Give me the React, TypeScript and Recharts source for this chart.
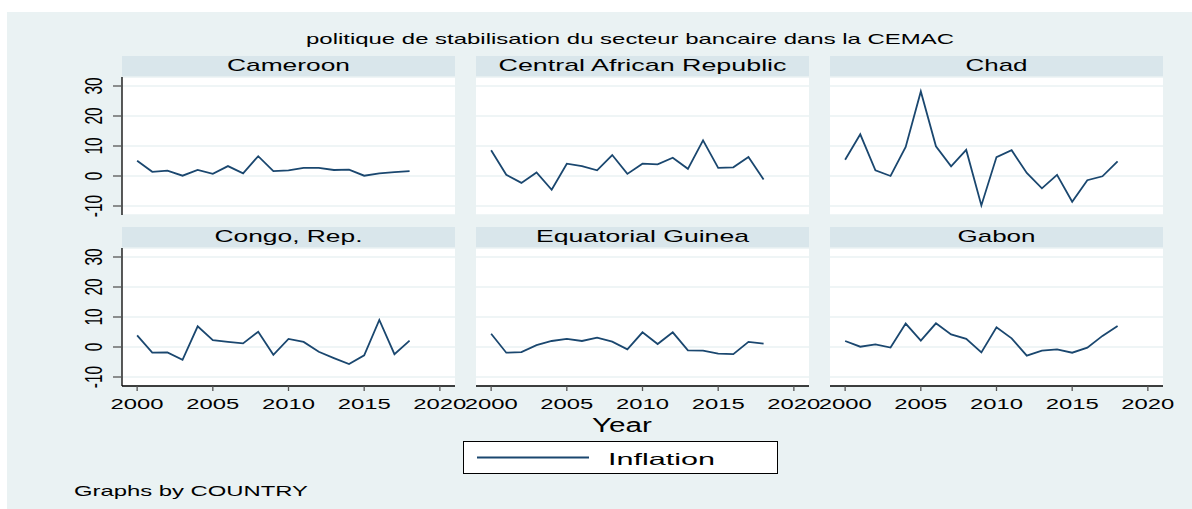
import React from "react";
import { LineChart, Line, XAxis, YAxis, CartesianGrid } from "recharts";

const years = [
  2000, 2001, 2002, 2003, 2004, 2005, 2006, 2007, 2008, 2009, 2010, 2011, 2012,
  2013, 2014, 2015, 2016, 2017, 2018,
];
const cameroon = [5.1, 1.4, 1.8, 0.1, 2.0, 0.7, 3.3, 0.9, 6.6, 1.6, 1.9, 2.7, 2.7, 2.0, 2.1, 0.1, 0.9, 1.3, 1.6];
const centralAfricanRepublic = [8.6, 0.4, -2.3, 1.2, -4.6, 4.1, 3.3, 1.9, 7.0, 0.7, 4.1, 3.9, 6.1, 2.4, 11.9, 2.7, 2.9, 6.3, -1.2];
const chad = [5.4, 13.9, 1.9, 0.0, 9.7, 28.2, 9.9, 3.2, 8.7, -9.8, 6.3, 8.6, 1.0, -4.1, 0.4, -8.6, -1.4, -0.1, 4.9];
const congoRep = [3.9, -1.9, -1.8, -4.3, 6.9, 2.3, 1.7, 1.2, 5.1, -2.6, 2.7, 1.7, -1.6, -3.7, -5.7, -2.8, 9.0, -2.4, 2.1];
const equatorialGuinea = [4.4, -1.9, -1.7, 0.6, 2.0, 2.7, 2.0, 3.1, 1.8, -0.8, 4.9, 1.0, 4.9, -1.1, -1.2, -2.2, -2.4, 1.7, 1.1];
const gabon = [2.0, 0.1, 0.9, -0.2, 7.8, 2.1, 7.9, 4.2, 2.7, -1.8, 6.6, 2.9, -2.9, -1.2, -0.8, -1.9, -0.2, 3.7, 7.0];

const yearTicks = [2000, 2005, 2010, 2015, 2020];
const inflationTicks = [-10, 0, 10, 20, 30];

const panels = [
  { name: "Cameroon", values: cameroon, col: 0, row: 0, textW: 123 },
  { name: "Central African Republic", values: centralAfricanRepublic, col: 1, row: 0, textW: 288 },
  { name: "Chad", values: chad, col: 2, row: 0, textW: 62 },
  { name: "Congo, Rep.", values: congoRep, col: 0, row: 1, textW: 148 },
  { name: "Equatorial Guinea", values: equatorialGuinea, col: 1, row: 1, textW: 213 },
  { name: "Gabon", values: gabon, col: 2, row: 1, textW: 78 },
];

const FONT = "'Liberation Sans', Arial, Helvetica, sans-serif";
const NAVY = "#1A476F";
const BG = "#EAF2F3";
const STRIP = "#D9E6EB";

const PLOT_W = 333;
const PLOT_H = 138;
const Y_AXIS_W = 40;
const X_AXIS_H = 30;
const STRIP_H = 21;
const colLeft = [122, 476, 830];
const rowTop = [77, 248];

function YTick(props: any) {
  const { x, y, payload } = props;
  return (
    <text
      transform={`translate(${x - 19.2},${y}) scale(1.55,1) rotate(-90)`}
      textAnchor="middle"
      dy="0.36em"
      fontSize={15.5}
      fontFamily={FONT}
      fill="#000"
    >
      {payload.value}
    </text>
  );
}

function XTick(props: any) {
  const { x, y, payload } = props;
  return (
    <text
      x={x}
      y={y + 17.6}
      textAnchor="middle"
      fontSize={15.5}
      fontFamily={FONT}
      fill="#000"
      textLength={53}
      lengthAdjust="spacingAndGlyphs"
    >
      {payload.value}
    </text>
  );
}

function Panel({ values, col, row }: { values: number[]; col: number; row: number }) {
  const showY = col === 0;
  const showX = row === 1;
  const w = PLOT_W + (showY ? Y_AXIS_W : 0);
  const h = PLOT_H + (showX ? X_AXIS_H : 0);
  const data = years.map((year, i) => ({ year, inflation: values[i] }));
  return (
    <div
      style={{
        position: "absolute",
        left: colLeft[col] - (showY ? Y_AXIS_W : 0),
        top: rowTop[row],
        width: w,
        height: h,
      }}
    >
      <LineChart width={w} height={h} data={data} margin={{ top: 0, right: 0, bottom: 0, left: 0 }}>
        <CartesianGrid vertical={false} stroke={BG} strokeWidth={1.5} fill="#FFFFFF" fillOpacity={1} />
        <XAxis
          dataKey="year"
          type="number"
          domain={[1999, 2021]}
          ticks={yearTicks}
          interval={0}
          hide={!showX}
          height={X_AXIS_H}
          tickSize={5}
          tickMargin={0}
          axisLine={{ stroke: "#000", strokeWidth: 1.3 }}
          tickLine={{ stroke: "#555", strokeWidth: 1.3 }}
          tick={XTick}
          allowDataOverflow
        />
        <YAxis
          type="number"
          domain={[-13, 33]}
          ticks={inflationTicks}
          interval={0}
          hide={!showY}
          width={Y_AXIS_W}
          tickSize={9}
          tickMargin={0}
          axisLine={{ stroke: "#000", strokeWidth: 1.3 }}
          tickLine={{ stroke: "#555", strokeWidth: 1.3 }}
          tick={YTick}
          allowDataOverflow
        />
        <Line
          type="linear"
          dataKey="inflation"
          stroke={NAVY}
          strokeWidth={1.8}
          dot={false}
          isAnimationActive={false}
        />
      </LineChart>
    </div>
  );
}

export default function App() {
  return (
    <div style={{ position: "absolute", left: 0, top: 0, width: 1192, height: 509, background: "#fff", overflow: "hidden" }}>
      <style>{`.recharts-wrapper, .recharts-surface { overflow: visible !important; }`}</style>
      <svg width={1192} height={509} style={{ position: "absolute", left: 0, top: 0 }} fontFamily={FONT}>
        <rect x={7} y={12} width={1185} height={497} fill={BG} />
        <text x={630} y={44} textAnchor="middle" fontSize={15} textLength={648} lengthAdjust="spacingAndGlyphs" fill="#000">
          politique de stabilisation du secteur bancaire dans la CEMAC
        </text>
        {panels.map((p) => {
          const x = colLeft[p.col];
          const y = rowTop[p.row] - STRIP_H;
          return (
            <g key={p.name}>
              <rect x={x} y={y} width={PLOT_W} height={STRIP_H} fill={STRIP} />
              <text
                x={x + PLOT_W / 2}
                y={y + 15.3}
                textAnchor="middle"
                fontSize={17}
                textLength={p.textW}
                lengthAdjust="spacingAndGlyphs"
                fill="#000"
              >
                {p.name}
              </text>
            </g>
          );
        })}
        <text x={622} y={431.5} textAnchor="middle" fontSize={19.5} textLength={60} lengthAdjust="spacingAndGlyphs" fill="#000">
          Year
        </text>
        <rect x={463.5} y={441.5} width={314} height={32} fill="#fff" stroke="#000" strokeWidth={1} />
        <line x1={477} y1={457.5} x2={589} y2={457.5} stroke={NAVY} strokeWidth={2} />
        <text x={608} y={465} fontSize={16.5} textLength={107} lengthAdjust="spacingAndGlyphs" fill="#000">
          Inflation
        </text>
        <text x={74} y={496} fontSize={15} textLength={234} lengthAdjust="spacingAndGlyphs" fill="#000">
          Graphs by COUNTRY
        </text>
      </svg>
      {panels.map((p) => (
        <Panel key={p.name} values={p.values} col={p.col} row={p.row} />
      ))}
    </div>
  );
}
